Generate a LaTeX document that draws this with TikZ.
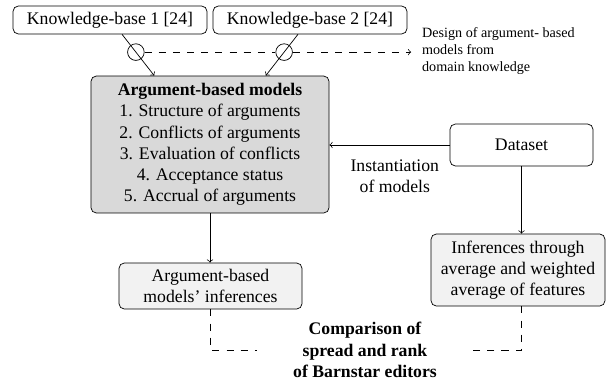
\documentclass[tikz,border=0pt]{standalone}
\usepackage{fontspec}
\setmainfont{Liberation Serif}
\usetikzlibrary{arrows}

\begin{document}
\begin{tikzpicture}[x=0.565pt, y=-0.565pt,
    box/.style={draw, rounded corners=3pt, align=center, inner sep=2pt},
    kbbox/.style={box, minimum width=109.6pt, minimum height=15.8pt},
    corebox/.style={box, fill=black!15, minimum width=134.5pt, minimum height=77.4pt},
    resbox/.style={box, fill=black!5},
    ring/.style={draw, circle, inner sep=0pt, minimum size=9.4pt},
    dsh/.style={dash pattern=on 4pt off 4pt}]

\useasboundingbox (0,0) rectangle (606,384);

%\draw[step=50, gray!30] (0,0) grid (606,384);

\node[kbbox] (kbA) at (110, 20) {Knowledge-base 1 [24]};
\node[kbbox] (kbB) at (310, 20) {Knowledge-base 2 [24]};

\node[corebox] (core) at (210, 144.5) {\textbf{Argument-based models}\\
    1. Structure of arguments\\
    2. Conflicts of arguments\\
    3. Evaluation of conflicts\\
    4. Acceptance status\\
    5. Accrual of arguments};

\node[box, minimum width=80.8pt, minimum height=23.7pt] (data) at (521.5, 145) {Dataset};

\node[resbox, minimum width=103.4pt, minimum height=26pt] (abInf) at (210.5, 286) {Argument-based\\models' inferences};
\node[resbox, minimum width=98.3pt, minimum height=40.7pt] (avgInf) at (518, 270) {Inferences through\\average and weighted\\average of features};

\node[font=\bfseries, align=center, minimum width=122pt] (cmp) at (365, 350) {Comparison of\\spread and rank\\of Barnstar editors};

\node[font=\footnotesize, align=left, anchor=west, inner sep=1pt] (design) at (420, 51) {Design of argument- based\\models from\\domain knowledge};

% knowledge-bases into the models
\draw[->] (kbA.-50) -- node[ring, pos=0.43] (cA) {} (core.129);
\draw[->] (kbB.-130) -- node[ring, pos=0.43] (cB) {} (core.51);

\draw[dsh] (cA) -- (cB);
\draw[dsh, ->] (cB) -- ([xshift=-5pt]design.west |- cB);

% dataset
\draw[->] (data.west) -- node[below=4.8pt, xshift=3pt, align=center] {Instantiation\\of models} (data.west -| core.east);
\draw[->] (data.south) -- (data.south |- avgInf.north);

\draw[->] (core.south) -- (core.south |- abInf.north);

% comparison
\draw[dsh] (abInf.south) |- (cmp.west);
\draw[dsh] (avgInf.south -| data.south) |- (cmp.east);

\end{tikzpicture}
\end{document}
